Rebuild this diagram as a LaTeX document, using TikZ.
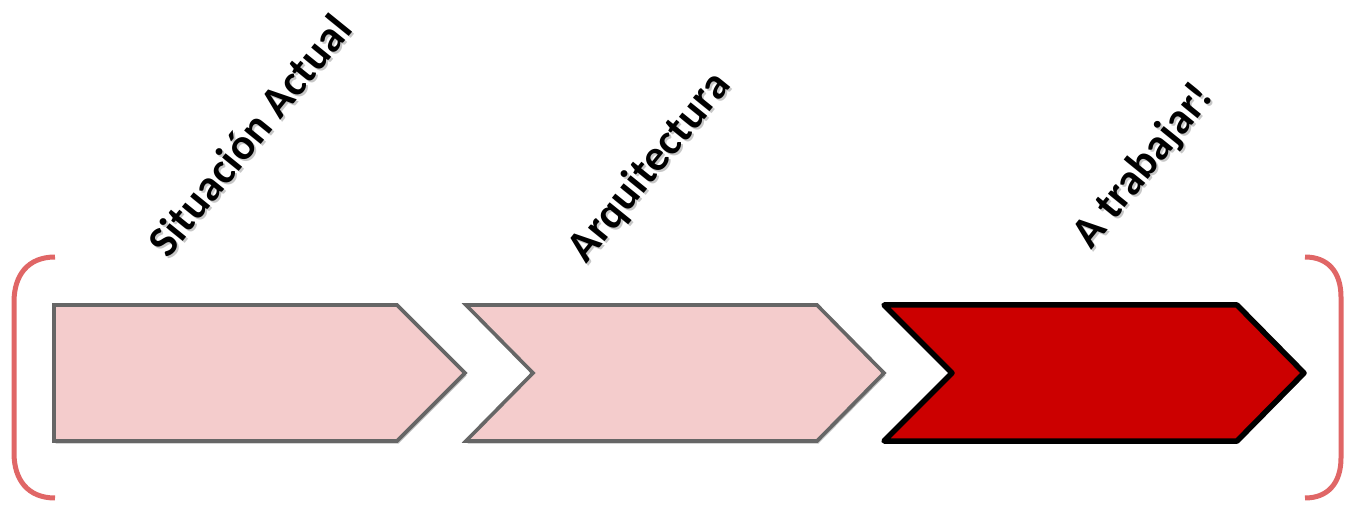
\documentclass[tikz,border=0pt]{standalone}
\usepackage{fontspec}
\setmainfont{Carlito}
\usetikzlibrary{shadows}
\definecolor{pinkfill}{HTML}{F4CCCC}
\definecolor{grayline}{HTML}{666666}
\definecolor{redfill}{HTML}{CC0000}
\definecolor{bracketcol}{HTML}{E06666}
\begin{document}
\begin{tikzpicture}[x=1pt,y=-1pt,
  chevlight/.style={fill=pinkfill,draw=grayline,line width=3.6pt,line join=miter,
    drop shadow={shadow xshift=1.5pt,shadow yshift=-2.5pt,opacity=0.25,fill=black}},
  chevdark/.style={fill=redfill,draw=black,line width=5.5pt,line join=round,
    drop shadow={shadow xshift=1.5pt,shadow yshift=-2.5pt,opacity=0.25,fill=black}},
  bracketline/.style={draw=bracketcol,line width=5pt},
  label/.style={font=\fontsize{44}{52}\selectfont\bfseries,rotate=51,inner sep=0pt,text=black},
  labelshadow/.style={label,opacity=0.22}
]
\useasboundingbox (0,0) rectangle (1345,505);
% brackets
\draw[bracketline] (55,257) .. controls (28,257) and (14,275) .. (14,302)
   -- (14,453) .. controls (14,480) and (28,498) .. (55,498);
\draw[bracketline] (1305,257) .. controls (1328,257) and (1341,272) .. (1341,297)
   -- (1341,458) .. controls (1341,483) and (1328,498) .. (1305,498);
% chevrons
\path[chevlight] (54,305) -- (397,305) -- (465,373) -- (397,441) -- (54,441) -- cycle;
\path[chevlight] (466,305) -- (817,305) -- (884,373) -- (817,441) -- (466,441) -- (533,373) -- cycle;
\path[chevdark] (884,305) -- (1237,305) -- (1304,373) -- (1237,441) -- (884,441) -- (952,373) -- cycle;
% labels
\node[labelshadow] at (251,137) {Situación Actual};
\node[label] (l1) at (249,135) {Situación Actual};
\node[labelshadow] at (652,169.5) {Arquitectura};
\node[label] (l2) at (650,167.5) {Arquitectura};
\node[labelshadow] at (1146,168.5) {A trabajar!};
\node[label] (l3) at (1144,166.5) {A trabajar!};
\end{tikzpicture}
\end{document}
